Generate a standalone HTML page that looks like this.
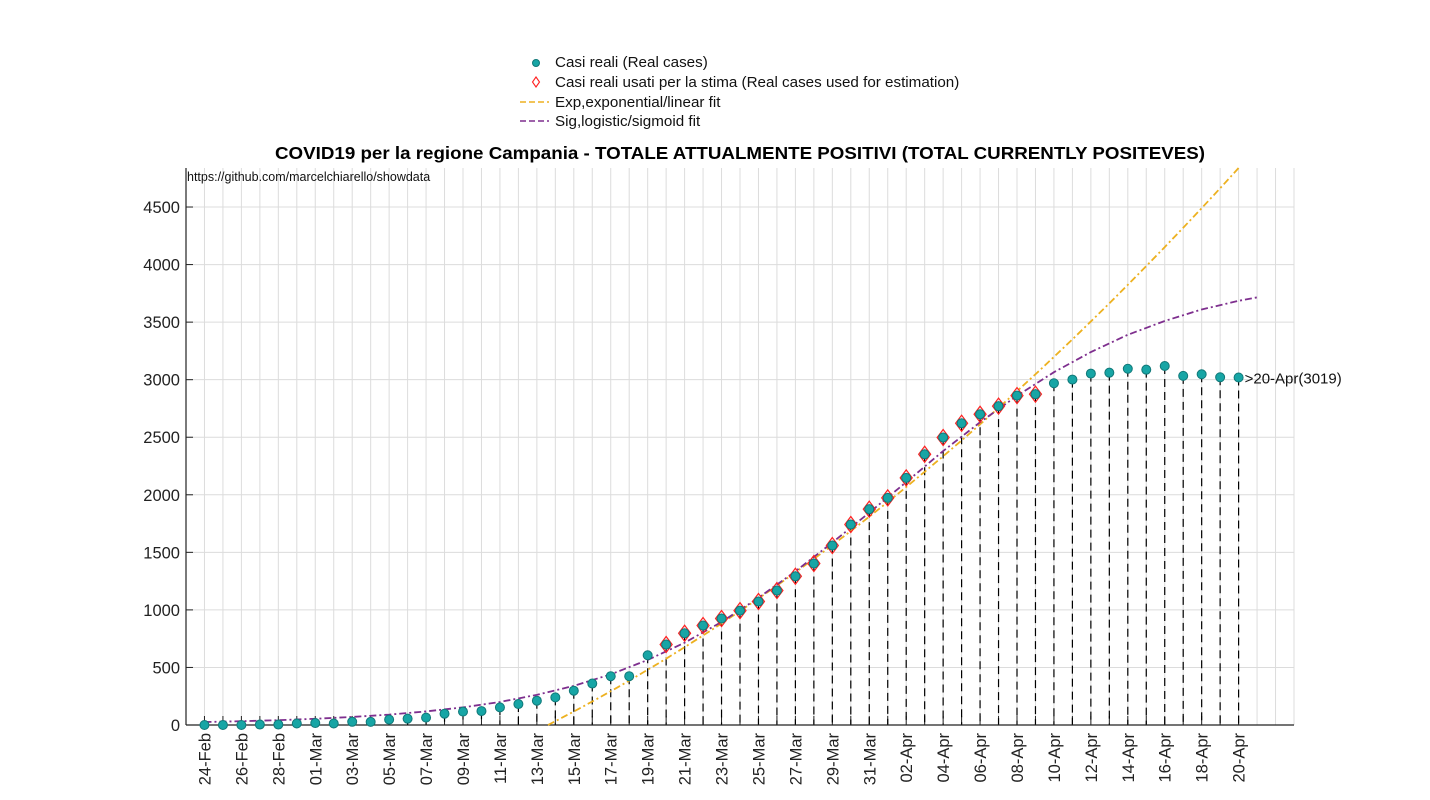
<!DOCTYPE html>
<html><head><meta charset="utf-8"><style>
body{margin:0;background:#fff;}
svg{display:block;font-family:"Liberation Sans",sans-serif;}
</style></head><body>
<svg id="chart" width="1430" height="800" xmlns="http://www.w3.org/2000/svg"></svg>
<script>
const categories=["24-Feb","25-Feb","26-Feb","27-Feb","28-Feb","29-Feb","01-Mar","02-Mar","03-Mar","04-Mar","05-Mar","06-Mar","07-Mar","08-Mar","09-Mar","10-Mar","11-Mar","12-Mar","13-Mar","14-Mar","15-Mar","16-Mar","17-Mar","18-Mar","19-Mar","20-Mar","21-Mar","22-Mar","23-Mar","24-Mar","25-Mar","26-Mar","27-Mar","28-Mar","29-Mar","30-Mar","31-Mar","01-Apr","02-Apr","03-Apr","04-Apr","05-Apr","06-Apr","07-Apr","08-Apr","09-Apr","10-Apr","11-Apr","12-Apr","13-Apr","14-Apr","15-Apr","16-Apr","17-Apr","18-Apr","19-Apr","20-Apr"];
const realCases=[0,0,0,4,4,13,17,13,28,27,47,55,64,98,116,121,153,182,211,240,298,360,424,424,606,699,797,864,925,994,1073,1168,1292,1403,1559,1742,1875,1973,2147,2352,2498,2622,2700,2770,2862,2874,2969,3001,3053,3061,3095,3087,3119,3033,3047,3021,3019];
const estStart=25, estEnd=45;
const expDays=[18.6,19,20,21,22,23,24,25,26,27,28,29,30,31,32,33,34,35,36,37,38,39,40,41,42,43,44,45,46,47,48,49,50,51,52,53,54,55,56];
const expValues=[0,33,117,204,293,385,480,576,676,778,882,990,1099,1211,1326,1443,1563,1685,1810,1937,2067,2200,2335,2472,2612,2755,2900,3047,3198,3350,3506,3663,3824,3987,4152,4320,4490,4663,4839];
const sigDays=[0,2,4,6,8,10,12,14,16,18,20,22,24,26,28,30,32,34,36,38,40,42,44,46,48,50,52,54,56,57];
const sigValues=[26,33,42,54,70,90,118,153,200,262,340,440,565,715,895,1105,1335,1585,1845,2110,2380,2630,2860,3065,3240,3390,3510,3610,3685,3715];
const yTicks=[0,500,1000,1500,2000,2500,3000,3500,4000,4500];

const svg=document.getElementById('chart');
const NS='http://www.w3.org/2000/svg';
const L=186,R=1294,T=168,B=725,YMAX=4839;
const x=d=>L+(d+1)*(R-L)/60;
const y=v=>B-v*(B-T)/YMAX;
function mk(tag,attrs,parent){const e=document.createElementNS(NS,tag);for(const k in attrs)e.setAttribute(k,attrs[k]);(parent||svg).appendChild(e);return e;}

const grid=mk('g',{});


for(let d=-1;d<=59;d++){mk('line',{x1:x(d),x2:x(d),y1:T,y2:B,stroke:'#dcdcdc','stroke-width':1},grid);}
yTicks.forEach(v=>{mk('line',{x1:L,x2:R,y1:y(v),y2:y(v),stroke:'#dcdcdc','stroke-width':1},grid);});

const yax=mk('g',{});


yTicks.forEach(v=>{
  mk('line',{x1:L,x2:L+7,y1:y(v),y2:y(v),stroke:'#222'},yax);
  const t=mk('text',{x:180,y:y(v)+6,'text-anchor':'end','font-size':16.5,fill:'#222'},yax);
  t.textContent=v;
});
const xax=mk('g',{});


categories.forEach((c,i)=>{
  mk('line',{x1:x(i),x2:x(i),y1:B,y2:B-9,stroke:'#222'},xax);
  if(i%2===0){
    const t=mk('text',{x:0,y:0,'text-anchor':'end','font-size':16.5,fill:'#222',transform:`translate(${x(i)+6},733) rotate(-90)`},xax);
    t.textContent=c;
  }
});

const stems=mk('g',{});


realCases.forEach((v,i)=>{mk('line',{x1:x(i),x2:x(i),y1:y(v),y2:B,stroke:'#000','stroke-width':1.2,'stroke-dasharray':'8,5'},stems);});

mk('line',{x1:L,x2:L,y1:T,y2:B,stroke:'#222','stroke-width':1.2});
mk('line',{x1:L,x2:R,y1:B,y2:B,stroke:'#222','stroke-width':1.2});

const ep=mk('polyline',{points:expDays.map((d,i)=>x(d)+','+y(expValues[i])).join(' '),fill:'none',stroke:'#edb120','stroke-width':1.8,'stroke-dasharray':'7,3,2,3'});


const sp=mk('polyline',{points:sigDays.map((d,i)=>x(d)+','+y(sigValues[i])).join(' '),fill:'none',stroke:'#7e2f8e','stroke-width':1.8,'stroke-dasharray':'7,3,2,3'});



const pts=mk('g',{});


realCases.forEach((v,i)=>{
  if(i>=estStart&&i<=estEnd){
    const cx=x(i),cy=y(v);
    mk('polygon',{points:`${cx},${cy-8} ${cx+6},${cy} ${cx},${cy+8} ${cx-6},${cy}`,fill:'none',stroke:'#ff2020','stroke-width':1.2},pts);
  }
  mk('circle',{cx:x(i),cy:y(v),r:4.5,fill:'#17a5a5',stroke:'#107878','stroke-width':1},pts);
});

const an=mk('text',{x:x(56)+6,y:y(3019)+6,'font-size':15,fill:'#111'});


an.textContent='>20-Apr(3019)';

const u=mk('text',{x:187,y:181,'font-size':12.5,fill:'#111'});


u.textContent='https://github.com/marcelchiarello/showdata';

const ti=mk('text',{x:275,y:159,'font-size':17.5,'font-weight':'bold',fill:'#000',textLength:930,lengthAdjust:'spacingAndGlyphs'});


ti.textContent='COVID19 per la regione Campania - TOTALE ATTUALMENTE POSITIVI (TOTAL CURRENTLY POSITEVES)';

const lg=mk('g',{});


mk('circle',{cx:536,cy:63,r:3.5,fill:'#17a5a5',stroke:'#107878'},lg);
mk('polygon',{points:'536,77 539.5,82 536,87 532.5,82',fill:'none',stroke:'#ff2020','stroke-width':1.1},lg);
mk('line',{x1:520,x2:549,y1:102,y2:102,stroke:'#edb120','stroke-width':1.6,'stroke-dasharray':'6,3'},lg);
mk('line',{x1:520,x2:549,y1:121,y2:121,stroke:'#7e2f8e','stroke-width':1.6,'stroke-dasharray':'6,3'},lg);
const labels=['Casi reali (Real cases)','Casi reali usati per la stima (Real cases used for estimation)','Exp,exponential/linear fit','Sig,logistic/sigmoid fit'];
const ly=[67,87,107,126];
labels.forEach((s,i)=>{const t=mk('text',{x:555,y:ly[i],'font-size':15.2,fill:'#111'},lg);t.textContent=s;});
</script>
</body></html>
